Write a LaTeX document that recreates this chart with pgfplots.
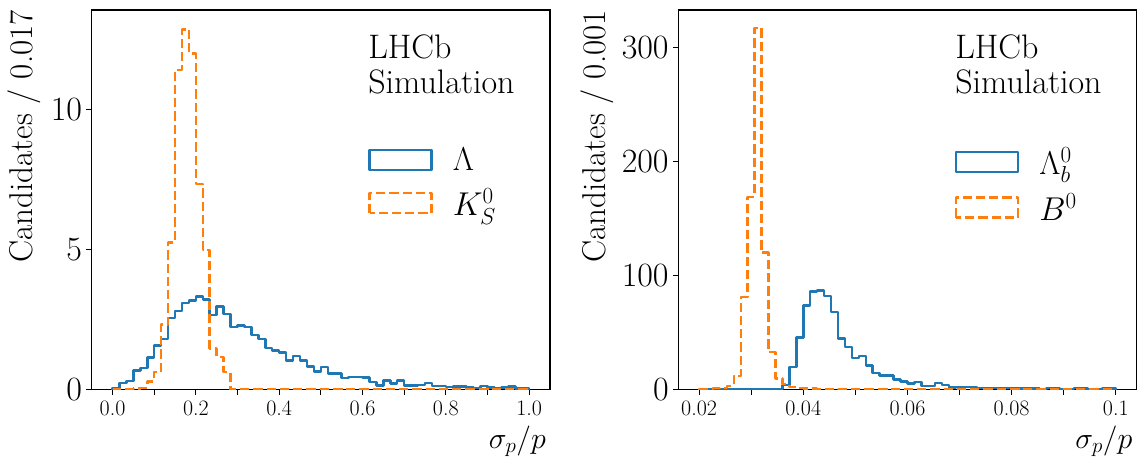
\documentclass[border=0pt]{standalone}
\usepackage{fix-cm}
\usepackage{pgfplots}
\usepackage{pgfplotstable}
\pgfplotsset{compat=1.18}
\definecolor{tabblue}{HTML}{1F77B4}
\definecolor{taborange}{HTML}{FF7F0E}

% left panel: bin left edges (60 bins on [0,1]), Lambda and K_S^0
\pgfplotstableread{
x lam ks
0 0 0
0 0.05 0.00
0.016667 0.24 0.02
0.033333 0.30 0.02
0.05 0.68 0.03
0.066667 0.77 0.06
0.083333 1.15 0.29
0.1 1.57 0.62
0.116667 1.81 2.33
0.133333 2.56 5.26
0.15 2.81 11.43
0.166667 3.10 12.88
0.183333 3.19 12.02
0.2 3.33 7.35
0.216667 3.21 4.99
0.233333 2.67 1.46
0.25 2.96 1.16
0.266667 2.70 0.62
0.283333 2.24 0
0.3 2.29 0
0.316667 2.24 0
0.333333 1.95 0
0.35 1.81 0
0.366667 1.49 0
0.383333 1.39 0
0.4 1.33 0
0.416667 1.04 0
0.433333 1.19 0
0.45 1.04 0
0.466667 0.82 0
0.483333 0.65 0
0.5 0.80 0
0.516667 0.58 0
0.533333 0.57 0
0.55 0.42 0
0.566667 0.45 0
0.583333 0.44 0
0.6 0.43 0
0.616667 0.26 0
0.633333 0.15 0
0.65 0.33 0
0.666667 0.22 0
0.683333 0.33 0
0.7 0.15 0
0.716667 0.15 0
0.733333 0.16 0
0.75 0.24 0
0.766667 0.12 0
0.783333 0.13 0
0.8 0.09 0
0.816667 0.10 0
0.833333 0.10 0
0.85 0.07 0
0.866667 0.06 0
0.883333 0.12 0
0.9 0.08 0
0.916667 0.05 0
0.933333 0.07 0
0.95 0.10 0
0.966667 0.04 0
0.983333 0.05 0
1.0 0.05 0
1.0 0 0
}\lefttab

% right panel: bin left edges in units of 0.001 (60 bins on [0.02,0.1]), Lambda_b^0 and B^0
\pgfplotstableread{
x lb bz
20 0 0
20 0 0.3
21.333 0 0.6
22.667 0 1.2
24 0 1.5
25.333 0 3.0
26.667 0 12
28 0 81
29.333 0 169
30.667 0 317
32 0 120
33.333 0 33
34.667 0.3 9.5
36 4 5
37.333 19.8 2
38.667 45.8 1.2
40 73.8 0.8
41.333 86 0.8
42.667 86.9 0.6
44 82.2 0.5
45.333 67.9 0.4
46.667 44.6 0.3
48 37.3 0.3
49.333 27.7 0.2
50.667 29.2 0.2
52 21 0.2
53.333 14.6 0.1
54.667 12.5 0.1
56 12.5 0.1
57.333 8.7 0.1
58.667 7 0.1
60 5.2 0
61.333 6.4 0
62.667 2.9 0
64 3.0 0
65.333 5.8 0
66.667 4.1 0
68 1.7 0
69.333 2.3 0
70.667 2.3 0
72 2.0 0
73.333 1.5 0
74.667 1.5 0
76 1.5 0
77.333 1.2 0
78.667 1.2 0
80 1.2 0
81.333 1.0 0
82.667 0.8 0
84 0.8 0
85.333 0.6 0
86.667 1.5 0
88 0.8 0
89.333 0.6 0
90.667 0.6 0
92 1.5 0
93.333 0.8 0
94.667 0.6 0
96 0.3 0
97.333 0.8 0
98.667 0.9 0
100 0.9 0
100 0 0
}\righttab

\pgfplotsset{
  lhcbpanel/.style={
    scale only axis, width=458.3pt, height=379.5pt,
    anchor=south west,
    axis line style={line width=1.1pt, black},
    tick style={line width=1.1pt, black},
    tick align=outside, major tick length=5.5pt,
    xtick pos=bottom, ytick pos=left,
    scaled ticks=false,
    xticklabel style={font=\fontsize{22}{22}\selectfont, inner sep=0pt},
    yticklabel style={font=\fontsize{34}{34}\selectfont, inner sep=0pt},
    xticklabel shift=6pt,
    yticklabel shift=4pt,
    every axis x label/.style={at={(rel axis cs:1,0)}, anchor=base east,
      inner sep=0pt, yshift=-58.5pt, xshift=-4pt,
      font=\fontsize{30}{30}\selectfont},
    every axis y label/.style={at={(rel axis cs:0,1)}, rotate=90,
      anchor=base east, inner sep=0pt,
      font=\fontsize{33}{33}\selectfont},
    legend image code/.code={\draw[#1] (0pt,-10pt) rectangle (62pt,10pt);},
    legend style={at={(0.603,0.637)}, anchor=north west, draw=none, fill=none,
      inner sep=0pt, font=\fontsize{33}{33}\selectfont,
      nodes={inner sep=0pt},
      row sep=17pt,
      /tikz/every odd column/.append style={column sep=20pt}},
    legend cell align=left,
    histA/.style={tabblue, line width=2.5pt, const plot mark left, line join=round},
    histB/.style={taborange, line width=2.5pt, const plot mark left, line join=round,
      dash pattern=on 9.25pt off 4pt},
  }
}

\begin{document}
\begin{tikzpicture}
\useasboundingbox (0,0) rectangle (1142pt,461pt);
\begin{axis}[lhcbpanel,
  at={(91.7pt,71.5pt)},
  xmin=-0.05, xmax=1.05, ymin=0, ymax=13.57,
  xtick={0,0.1,0.2,0.3,0.4,0.5,0.6,0.7,0.8,0.9,1.0},
  xticklabels={0.0,,0.2,,0.4,,0.6,,0.8,,1.0},
  ytick={0,5,10},
  xlabel={$\sigma_p/p$},
  ylabel={Candidates / 0.017},
  ylabel style={yshift=58.7pt},
]
\addplot[histA] table[x=x, y=lam] {\lefttab};
\addlegendentry{$\Lambda$}
\addplot[histB] table[x=x, y=ks] {\lefttab};
\addlegendentry{$K^0_S$}
\node[anchor=north west, align=left, inner sep=0pt,
  font=\fontsize{34}{35}\selectfont] at (rel axis cs:0.603,0.936) {LHCb\\Simulation};
\end{axis}

\begin{axis}[lhcbpanel,
  at={(678.3pt,71.5pt)},
  xmin=16, xmax=104, ymin=0, ymax=332.9,
  xtick={20,30,40,50,60,70,80,90,100},
  xticklabels={0.02,,0.04,,0.06,,0.08,,0.1},
  ytick={0,100,200,300},
  xlabel={$\sigma_p/p$},
  ylabel={Candidates / 0.001},
  ylabel style={yshift=73pt},
]
\addplot[histA] table[x=x, y=lb] {\righttab};
\addlegendentry{$\Lambda^0_b$}
\addplot[histB] table[x=x, y=bz] {\righttab};
\addlegendentry{$B^0$}
\node[anchor=north west, align=left, inner sep=0pt,
  font=\fontsize{34}{35}\selectfont] at (rel axis cs:0.604,0.936) {LHCb\\Simulation};
\end{axis}
\end{tikzpicture}
\end{document}
